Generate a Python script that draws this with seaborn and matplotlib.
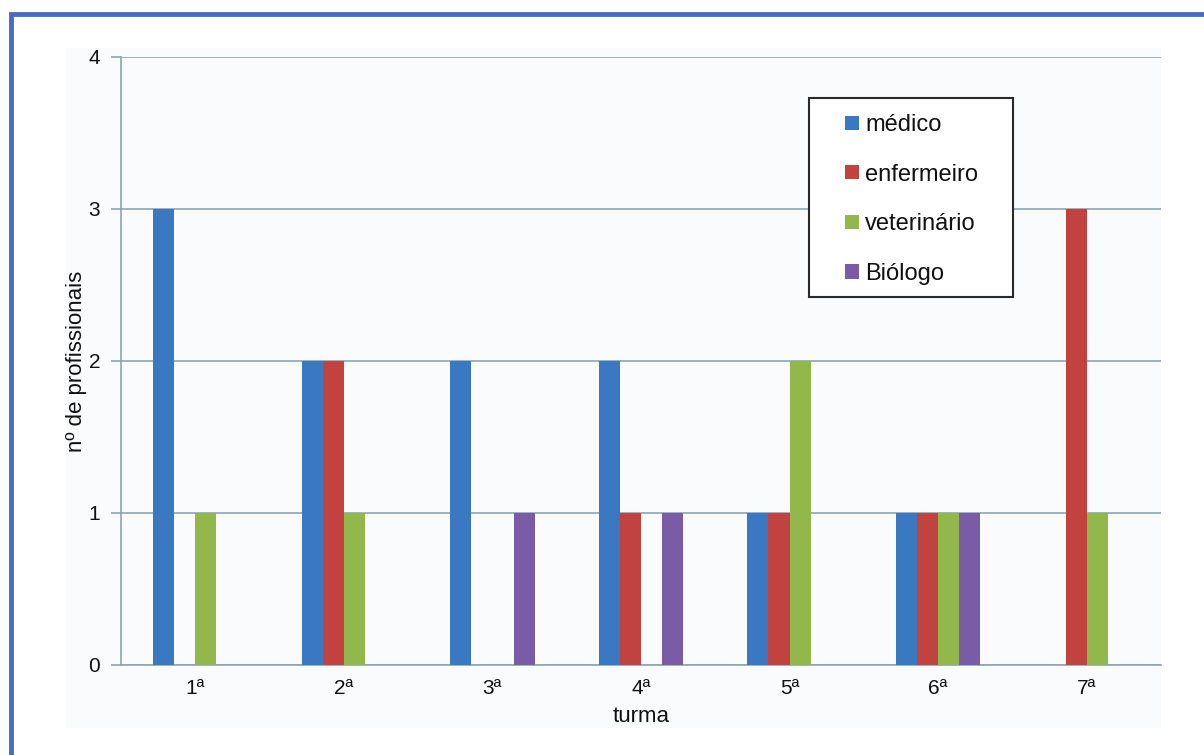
import matplotlib
matplotlib.use("Agg")
import matplotlib.pyplot as plt
import matplotlib.patches as mpatches
import seaborn as sns
import pandas as pd

turmas = ["1ª", "2ª", "3ª", "4ª", "5ª", "6ª", "7ª"]
profissoes = ["médico", "enfermeiro", "veterinário", "Biólogo"]
medico = [3, 2, 2, 2, 1, 1, 0]
enfermeiro = [0, 2, 0, 1, 1, 1, 3]
veterinario = [1, 1, 0, 0, 2, 1, 1]
biologo = [0, 0, 1, 1, 0, 1, 0]
yticks = [0, 1, 2, 3, 4]

series = [medico, enfermeiro, veterinario, biologo]
rows = []
for prof, vals in zip(profissoes, series):
    for t, v in zip(turmas, vals):
        rows.append({"turma": t, "profissão": prof, "n": v})
df = pd.DataFrame(rows)

colors = ["#3b78c2", "#c2423f", "#92b84b", "#7a5ba6"]

sns.set_style("white")
plt.rcParams["font.family"] = ["Liberation Sans", "DejaVu Sans"]

fig = plt.figure(figsize=(12.04, 7.55), dpi=100)
W, H = 1204, 755

# outer blue frame (left/top visible, extends beyond right/bottom)
fig.patches.append(mpatches.Rectangle((11 / W, -0.1), 1.2, 1 - 14 / H + 0.1,
                                      transform=fig.transFigure, fill=False,
                                      edgecolor="#4a6cc0", linewidth=3.5, zorder=-10))
# light panel
fig.patches.append(mpatches.Rectangle((66 / W, 1 - 728 / H), (1161 - 66) / W, (728 - 48) / H,
                                      transform=fig.transFigure, facecolor="#fafbfd",
                                      edgecolor="none", zorder=-10))

ax = fig.add_axes([121 / W, 1 - 665 / H, (1161 - 121) / W, (665 - 57) / H])
ax.set_facecolor("none")

sns.barplot(data=df, x="turma", y="n", hue="profissão", hue_order=profissoes,
            order=turmas, palette=colors, width=0.57, saturation=1,
            linewidth=0, ax=ax, zorder=3)

ax.set_ylim(0, 4)
ax.set_yticks(yticks)
ax.set_yticklabels([str(v) for v in yticks])
ax.set_xlim(-0.5, 6.5)
gridc = "#8ca6b4"
ax.yaxis.grid(True, color=gridc, linewidth=1.2, zorder=0)
ax.set_axisbelow(True)
for s in ["top", "right"]:
    ax.spines[s].set_visible(False)
ax.spines["left"].set_color(gridc)
ax.spines["bottom"].set_color(gridc)
ax.spines["left"].set_linewidth(1.2)
ax.spines["bottom"].set_linewidth(1.2)
ax.tick_params(axis="y", length=7, color=gridc, width=1.2, labelsize=15, pad=8,
               left=True, labelcolor="#111111")
ax.tick_params(axis="x", length=0, labelsize=15, pad=10, labelcolor="#111111")

ax.set_xlabel("turma", fontsize=16, labelpad=6, color="#111111")
ax.set_ylabel("nº de profissionais", fontsize=16, labelpad=1, color="#111111")

# legend box
box = mpatches.Rectangle((809 / W, 1 - 297 / H), (1013 - 809) / W, (297 - 98) / H,
                         transform=fig.transFigure, facecolor="white",
                         edgecolor="#2a2a2a", linewidth=1.5, zorder=5, clip_on=False)
ax.add_patch(box)
leg = ax.legend(loc="upper left", bbox_to_anchor=(845 / W, 1 - 114 / H),
                bbox_transform=fig.transFigure,
                frameon=False, fontsize=17, handlelength=0.6, handleheight=0.55,
                handletextpad=0.25, labelspacing=1.17, borderpad=0, borderaxespad=0)
leg.set_title(None)
leg.set_zorder(6)
for t in leg.get_texts():
    t.set_color("#111111")

fig.savefig("out.png", dpi=100)
